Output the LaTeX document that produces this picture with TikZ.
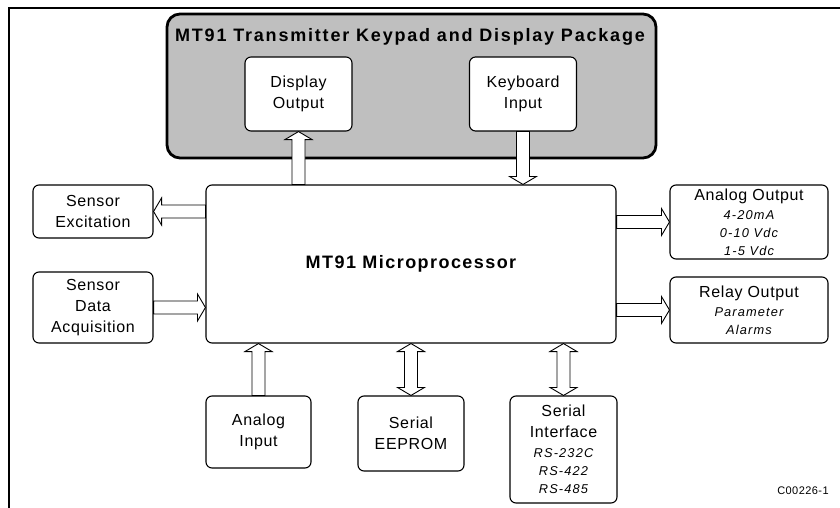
\documentclass[tikz,border=0pt]{standalone}
\usepackage{fontspec}
\setmainfont{Liberation Sans}
\newfontfamily\regf[LetterSpace=4]{Liberation Sans}
\newfontfamily\boldf[LetterSpace=8]{Liberation Sans}
\newfontfamily\titlef[LetterSpace=10]{Liberation Sans}
\newfontfamily\itf[LetterSpace=9]{Liberation Sans}
\usetikzlibrary{calc}
\newcommand\myit[1]{{\itf\fontsize{12.8}{18}\selectfont\itshape #1}}
\tikzset{
  box/.style={draw, line width=1.1pt, rounded corners=6pt, fill=white, inner sep=1pt,
    align=center, font=\regf\fontsize{16}{21}\selectfont},
  pkgbox/.style={draw, line width=2.8pt, rounded corners=13pt, fill=black!25},
  blockarr/.style={draw, line width=0.9pt, fill=white, line join=miter},
  frame/.style={line width=2.4pt}
}
% vertical single block arrow: #1 tail, #2 tip (same x)
\newcommand\varrow[2]{\draw[blockarr] let \p1=#1, \p2=#2, \n1={ifthenelse(\y2>\y1,1,-1)} in
 ({\x1-6.5pt},\y1) -- ({\x1-6.5pt},{\y2-\n1*8pt}) -- ({\x1-13.5pt},{\y2-\n1*8pt}) -- (\x1,\y2)
 -- ({\x1+13.5pt},{\y2-\n1*8pt}) -- ({\x1+6.5pt},{\y2-\n1*8pt}) -- ({\x1+6.5pt},\y1) -- cycle;}
% horizontal single block arrow: #1 tail, #2 tip (same y)
\newcommand\harrow[2]{\draw[blockarr] let \p1=#1, \p2=#2, \n1={ifthenelse(\x2>\x1,1,-1)} in
 (\x1,{\y1-6.5pt}) -- ({\x2-\n1*8pt},{\y1-6.5pt}) -- ({\x2-\n1*8pt},{\y1-13.5pt}) -- (\x2,\y1)
 -- ({\x2-\n1*8pt},{\y1+13.5pt}) -- ({\x2-\n1*8pt},{\y1+6.5pt}) -- (\x1,{\y1+6.5pt}) -- cycle;}
% vertical double block arrow
\newcommand\dvarrow[2]{\draw[blockarr] let \p1=#1, \p2=#2, \n1={ifthenelse(\y2>\y1,1,-1)} in
 (\x1,\y1) -- ({\x1+13.5pt},{\y1+\n1*8pt}) -- ({\x1+6.5pt},{\y1+\n1*8pt}) -- ({\x1+6.5pt},{\y2-\n1*8pt})
 -- ({\x1+13.5pt},{\y2-\n1*8pt}) -- (\x1,\y2) -- ({\x1-13.5pt},{\y2-\n1*8pt}) -- ({\x1-6.5pt},{\y2-\n1*8pt})
 -- ({\x1-6.5pt},{\y1+\n1*8pt}) -- ({\x1-13.5pt},{\y1+\n1*8pt}) -- cycle;}
\begin{document}
\begin{tikzpicture}[x=1pt,y=-1pt]
\useasboundingbox (0,0) rectangle (840,508);
% outer frame (top and left edges)
\coordinate (fbl) at (9,510);
\coordinate (ftl) at (9,8);
\coordinate (ftr) at (842,8);
\draw[frame] (fbl) -- (ftl) -- (ftr);
% keypad/display package
\node[pkgbox, minimum width=489pt, minimum height=144pt] (pkg) at (411.5,86) {};
\node[font=\titlef\bfseries\fontsize{18}{20}\selectfont, inner sep=0pt] (title) at (410,37) {MT91 Transmitter Keypad and Display Package};
\node[box, minimum width=107pt, minimum height=74pt] (disp) at (298.5,94) {Display\\Output};
\node[box, minimum width=107pt, minimum height=74pt] (kbd) at (523,94) {Keyboard\\Input};
% microprocessor
\node[box, minimum width=410pt, minimum height=158pt, font=\boldf\bfseries\fontsize{18}{21}\selectfont] (micro) at (411,264) {MT91 Microprocessor};
% left
\node[box, minimum width=120pt, minimum height=53pt] (sexc) at (93,211.5) {Sensor\\Excitation};
\node[box, minimum width=120pt, minimum height=71pt] (sdaq) at (93,307.5) {Sensor\\Data\\Acquisition};
% right
\node[box, minimum width=158pt, minimum height=74pt] (aout) at (749,222) {Analog Output\\[-2pt]\myit{4-20mA}\\[-3pt]\myit{0-10 Vdc}\\[-3pt]\myit{1-5 Vdc}};
\node[box, minimum width=158pt, minimum height=66pt] (rout) at (749,310) {Relay Output\\[-2pt]\myit{Parameter}\\[-3pt]\myit{Alarms}};
% bottom
\node[box, minimum width=105pt, minimum height=72pt] (ain) at (258.5,432) {Analog\\Input};
\node[box, minimum width=106pt, minimum height=75pt] (eep) at (411,433.5) {Serial\\EEPROM};
\node[box, minimum width=107pt, minimum height=107pt] (sint) at (563.5,449.5) {Serial\\Interface\\[-1pt]\myit{RS-232C}\\[-3pt]\myit{RS-422}\\[-3pt]\myit{RS-485}};
\node[font=\regf\fontsize{11}{13}\selectfont, inner sep=0pt] (code) at (803,491) {C00226-1};
% connectors
\varrow{(micro.north -| disp.south)}{(disp.south)}
\varrow{(kbd.south)}{(kbd.south |- micro.north)}
\harrow{(sexc.east -| micro.west)}{(sexc.east)}
\harrow{(sdaq.east)}{(sdaq.east -| micro.west)}
\harrow{(aout.west -| micro.east)}{(aout.west)}
\harrow{(rout.west -| micro.east)}{(rout.west)}
\varrow{(ain.north)}{(ain.north |- micro.south)}
\dvarrow{(eep.north)}{(eep.north |- micro.south)}
\dvarrow{(sint.north)}{(sint.north |- micro.south)}
\end{tikzpicture}
\end{document}
